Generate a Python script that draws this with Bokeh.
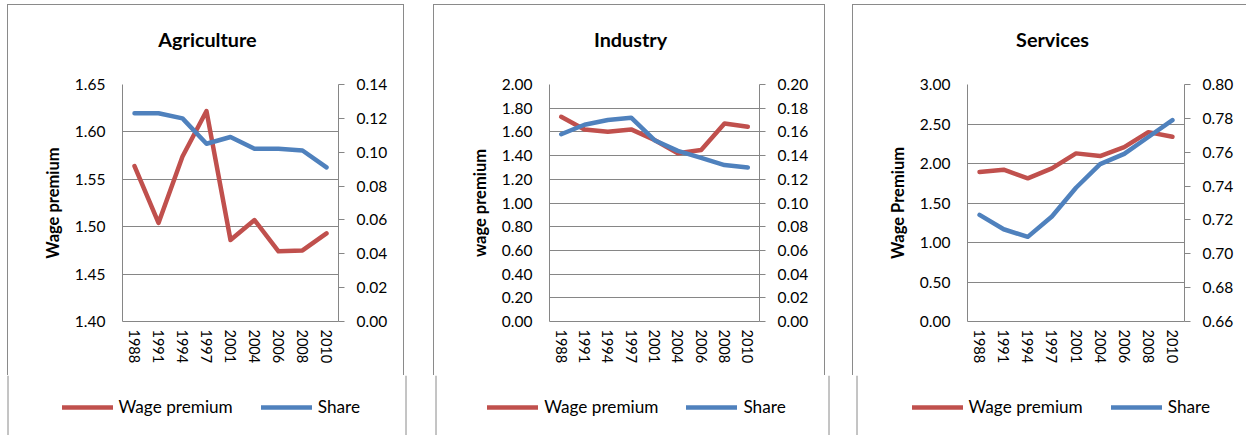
from bokeh.plotting import figure
from bokeh.models import (Range1d, FactorRange, LinearAxis, FixedTicker, NumeralTickFormatter,
                          Legend, LegendItem, Label, Span, Spacer)
from bokeh.layouts import row, column
from bokeh.embed import file_html
from bokeh.resources import INLINE

years = ["1988", "1991", "1994", "1997", "2001", "2004", "2006", "2008", "2010"]

agri_wage = [1.564, 1.504, 1.574, 1.622, 1.486, 1.507, 1.474, 1.475, 1.493]
agri_share = [0.123, 0.123, 0.120, 0.105, 0.109, 0.102, 0.102, 0.101, 0.091]
ind_wage = [1.728, 1.621, 1.601, 1.621, 1.531, 1.419, 1.447, 1.671, 1.643]
ind_share = [0.158, 0.166, 0.170, 0.172, 0.153, 0.144, 0.138, 0.132, 0.130]
serv_wage = [1.892, 1.921, 1.812, 1.938, 2.128, 2.094, 2.208, 2.397, 2.338]
serv_share = [0.723, 0.7145, 0.710, 0.722, 0.739, 0.753, 0.759, 0.769, 0.779]

agri_left_ticks = [1.40, 1.45, 1.50, 1.55, 1.60, 1.65]
agri_right_ticks = [0.00, 0.02, 0.04, 0.06, 0.08, 0.10, 0.12, 0.14]
ind_left_ticks = [0.00, 0.20, 0.40, 0.60, 0.80, 1.00, 1.20, 1.40, 1.60, 1.80, 2.00]
ind_right_ticks = [0.00, 0.02, 0.04, 0.06, 0.08, 0.10, 0.12, 0.14, 0.16, 0.18, 0.20]
serv_left_ticks = [0.00, 0.50, 1.00, 1.50, 2.00, 2.50, 3.00]
serv_right_ticks = [0.66, 0.68, 0.70, 0.72, 0.74, 0.76, 0.78, 0.80]

RED = "#C0504D"
BLUE = "#4F81BD"
GRAY = "#868686"
BCOL = "#8a8a8a"
BORDER = "1px solid " + BCOL
FONT = "Lato"
HEAD_H = 56
MAIN_H = 315
LEG_H = 60
TOTAL_W = 1251


def bare(width, height, x_range, y_range):
    f = figure(width=width, height=height, x_range=x_range, y_range=y_range,
               output_backend="svg", toolbar_location=None,
               x_axis_location=None, y_axis_location=None,
               min_border_left=0, min_border_right=0, min_border_top=0, min_border_bottom=0)
    f.outline_line_color = None
    f.xgrid.visible = False
    f.ygrid.visible = False
    f.background_fill_color = "white"
    f.border_fill_color = "white"
    return f


def panel(title, ylabel, wage, share, lticks, rticks, width, mb_left, mb_right,
          title_x, right_border=True):
    side = {"border-left": BORDER}
    if right_border:
        side["border-right"] = BORDER

    # header with the chart title (its frame lines up with the plot frame below)
    h = bare(width, HEAD_H, Range1d(mb_left, width - mb_right), Range1d(HEAD_H, 0))
    h.styles = dict(side, **{"border-top": BORDER})
    h.add_layout(Label(x=title_x, y=33, text=title, text_align="center",
                       text_baseline="middle", text_font=FONT, text_font_size="19.8px",
                       text_font_style="bold", text_color="black"))

    # main plot
    p = figure(width=width, height=MAIN_H, x_range=FactorRange(*years),
               y_range=Range1d(lticks[0], lticks[-1]),
               output_backend="svg", toolbar_location=None,
               min_border_left=mb_left, min_border_right=mb_right,
               min_border_top=24, min_border_bottom=54)
    p.extra_y_ranges = {"share": Range1d(rticks[0], rticks[-1])}
    p.outline_line_color = None
    p.background_fill_color = "white"
    p.border_fill_color = "white"
    p.styles = dict(side)

    ya = p.yaxis[0]
    ya.ticker = FixedTicker(ticks=lticks)
    ya.formatter = NumeralTickFormatter(format="0.00")
    ya.major_tick_out = 0
    ya.major_tick_in = 0
    ya.minor_tick_out = 0
    ya.minor_tick_in = 0
    ya.major_label_standoff = 17
    ya.major_label_text_align = "right"
    ya.major_label_text_font = FONT
    ya.major_label_text_font_size = "15.5px"
    ya.major_label_text_color = "black"
    ya.axis_line_color = GRAY
    ya.axis_label = ylabel
    ya.axis_label_text_font = FONT
    ya.axis_label_text_font_size = "16.5px"
    ya.axis_label_text_font_style = "bold"
    ya.axis_label_text_color = "black"
    ya.axis_label_standoff = 9

    ra = LinearAxis(y_range_name="share", ticker=FixedTicker(ticks=rticks),
                    formatter=NumeralTickFormatter(format="0.00"))
    ra.major_tick_out = 6
    ra.major_tick_in = 0
    ra.minor_tick_out = 0
    ra.minor_tick_in = 0
    ra.major_tick_line_color = GRAY
    ra.axis_line_color = GRAY
    ra.major_label_standoff = 12
    ra.major_label_text_align = "left"
    ra.major_label_text_font = FONT
    ra.major_label_text_font_size = "15.5px"
    ra.major_label_text_color = "black"
    p.add_layout(ra, "right")

    xa = p.xaxis[0]
    xa.major_label_orientation = "vertical"
    xa.major_tick_out = 0
    xa.major_tick_in = 0
    xa.major_label_standoff = 8
    xa.major_label_text_font = FONT
    xa.major_label_text_font_size = "14.5px"
    xa.major_label_text_color = "black"
    xa.axis_line_color = GRAY

    p.xgrid.visible = False
    p.ygrid.grid_line_color = GRAY
    p.ygrid.grid_line_width = 1

    p.line(years, wage, line_color=RED, line_width=4.5, line_cap="round", line_join="round")
    p.line(years, share, y_range_name="share", line_color=BLUE, line_width=4.5,
           line_cap="round", line_join="round")

    return column(h, p, spacing=0)


c1 = panel("Agriculture", "Wage premium", agri_wage, agri_share, agri_left_ticks,
           agri_right_ticks, 397, 114, 67, 199)
c2 = panel("Industry", "wage premium", ind_wage, ind_share, ind_left_ticks,
           ind_right_ticks, 392, 115, 67, 196)
c3 = panel("Services", "Wage Premium", serv_wage, serv_share, serv_left_ticks,
           serv_right_ticks, 394, 114, 63, 199, right_border=False)

# legend strip across the three panels: pixel coordinates as data units;
# the series are drawn at x = year (far outside the strip), only legend glyphs show
year_nums = [int(y) for y in years]
strip = bare(TOTAL_W, LEG_H, Range1d(0, TOTAL_W), Range1d(0, LEG_H))
for xb in [7.5, 405.5, 435.5, 828.5, 856.5]:
    strip.add_layout(Span(location=xb, dimension="height", line_color=BCOL, line_width=1))

legend_x = [61.5, 487.2, 911.5]
for (wage, share), lx in zip([(agri_wage, agri_share), (ind_wage, ind_share),
                              (serv_wage, serv_share)], legend_x):
    l1 = strip.line(year_nums, wage, line_color=RED, line_width=4.5, line_cap="round")
    l2 = strip.line(year_nums, share, line_color=BLUE, line_width=4.5, line_cap="round")
    leg = Legend(items=[LegendItem(label="Wage premium", renderers=[l1]),
                        LegendItem(label="Share", renderers=[l2])],
                 location=(lx, 18), orientation="horizontal",
                 glyph_width=51, glyph_height=20, label_height=20,
                 label_standoff=6, spacing=28, padding=0, margin=0,
                 border_line_color=None, background_fill_alpha=0,
                 label_text_font=FONT, label_text_font_size="17.2px",
                 label_text_color="black")
    strip.add_layout(leg, "center")

top = row(Spacer(width=7), c1, Spacer(width=29), c2, Spacer(width=27), c3, spacing=0)
layout = column(Spacer(height=4), top, strip, spacing=0)

open("out.html", "w").write(file_html(layout, INLINE))
